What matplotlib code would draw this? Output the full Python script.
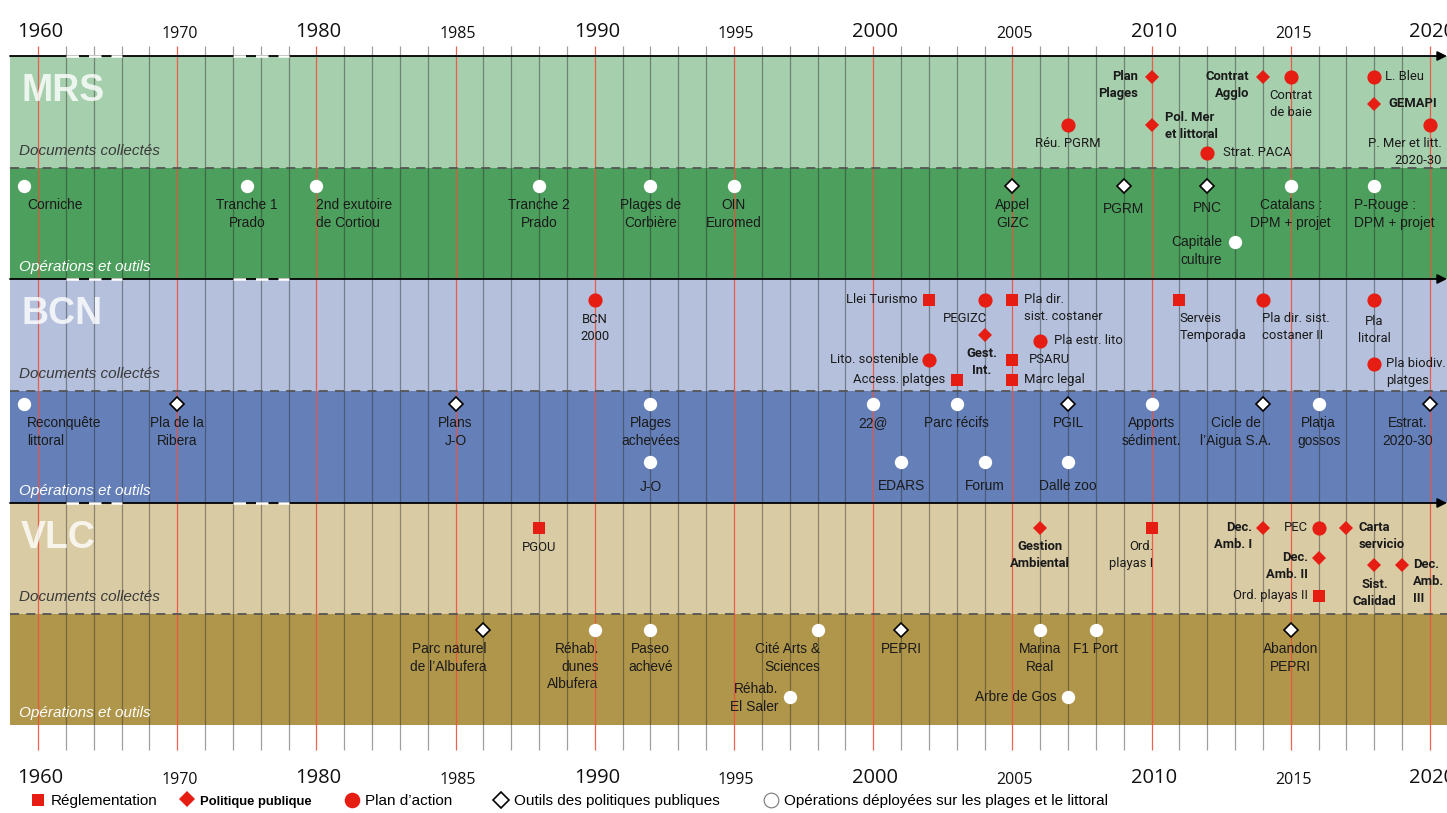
import matplotlib
matplotlib.use('Agg')
import matplotlib.pyplot as plt
from matplotlib.patches import Rectangle
from matplotlib.lines import Line2D

plt.rcParams['font.family'] = ['Roboto', 'DejaVu Sans']

# ---------------- DATA ----------------
axis_years = [1960, 1970, 1980, 1985, 1990, 1995, 2000, 2005, 2010, 2015, 2020]
major_years = [1960, 1980, 1990, 2000, 2010, 2020]
break_spans = [(1962, 1966), (1974, 1978)]

kinds = ['reg', 'pol', 'plan', 'outil', 'oper']
kind_names = ['Réglementation', 'Politique publique', 'Plan d’action',
              'Outils des politiques publiques',
              'Opérations déployées sur les plages et le littoral']

cities = ['MRS', 'BCN', 'VLC']
section_names = ['Documents collectés', 'Opérations et outils']

# events: (year, lane, kind, label)
mrs_docs = [
    (2010, 0, 'pol', 'Plan\nPlages'),
    (2014, 0, 'pol', 'Contrat\nAgglo'),
    (2015, 0, 'plan', 'Contrat\nde baie'),
    (2018, 0, 'plan', 'L. Bleu'),
    (2018, 1, 'pol', 'GEMAPI'),
    (2007, 2, 'plan', 'Réu. PGRM'),
    (2010, 2, 'pol', 'Pol. Mer\net littoral'),
    (2020, 2, 'plan', 'P. Mer et litt.\n2020-30'),
    (2012, 3, 'plan', 'Strat. PACA'),
]
mrs_ops = [
    (1959, 0, 'oper', 'Corniche'),
    (1975, 0, 'oper', 'Tranche 1\nPrado'),
    (1980, 0, 'oper', '2nd exutoire\nde Cortiou'),
    (1988, 0, 'oper', 'Tranche 2\nPrado'),
    (1992, 0, 'oper', 'Plages de\nCorbière'),
    (1995, 0, 'oper', 'OIN\nEuromed'),
    (2005, 0, 'outil', 'Appel\nGIZC'),
    (2009, 0, 'outil', 'PGRM'),
    (2012, 0, 'outil', 'PNC'),
    (2015, 0, 'oper', 'Catalans :\nDPM + projet'),
    (2018, 0, 'oper', 'P-Rouge :\nDPM + projet'),
    (2013, 1, 'oper', 'Capitale\nculture'),
]
bcn_docs = [
    (1990, 0, 'plan', 'BCN\n2000'),
    (2002, 0, 'reg', 'Llei Turismo'),
    (2004, 0, 'plan', 'PEGIZC'),
    (2005, 0, 'reg', 'Pla dir.\nsist. costaner'),
    (2011, 0, 'reg', 'Serveis\nTemporada'),
    (2014, 0, 'plan', 'Pla dir. sist.\ncostaner II'),
    (2018, 0, 'plan', 'Pla\nlitoral'),
    (2004, 1, 'pol', 'Gest.\nInt.'),
    (2006, 2, 'plan', 'Pla estr. lito'),
    (2002, 3, 'plan', 'Lito. sostenible'),
    (2005, 3, 'reg', 'PSARU'),
    (2018, 4, 'plan', 'Pla biodiv.\nplatges'),
    (2003, 5, 'reg', 'Access. platges'),
    (2005, 5, 'reg', 'Marc legal'),
]
bcn_ops = [
    (1959, 0, 'oper', 'Reconquête\nlittoral'),
    (1970, 0, 'outil', 'Pla de la\nRibera'),
    (1985, 0, 'outil', 'Plans\nJ-O'),
    (1992, 0, 'oper', 'Plages\nachevées'),
    (2000, 0, 'oper', '22@'),
    (2003, 0, 'oper', 'Parc récifs'),
    (2007, 0, 'outil', 'PGIL'),
    (2010, 0, 'oper', 'Apports\nsédiment.'),
    (2014, 0, 'outil', 'Cicle de\nl’Aigua S.A.'),
    (2016, 0, 'oper', 'Platja\ngossos'),
    (2020, 0, 'outil', 'Estrat.\n2020-30'),
    (1992, 1, 'oper', 'J-O'),
    (2001, 1, 'oper', 'EDARS'),
    (2004, 1, 'oper', 'Forum'),
    (2007, 1, 'oper', 'Dalle zoo'),
]
vlc_docs = [
    (1988, 0, 'reg', 'PGOU'),
    (2006, 0, 'pol', 'Gestion\nAmbiental'),
    (2010, 0, 'reg', 'Ord.\nplayas I'),
    (2014, 0, 'pol', 'Dec.\nAmb. I'),
    (2016, 0, 'plan', 'PEC'),
    (2017, 0, 'pol', 'Carta\nservicio'),
    (2016, 1, 'pol', 'Dec.\nAmb. II'),
    (2018, 2, 'pol', 'Sist.\nCalidad'),
    (2019, 2, 'pol', 'Dec.\nAmb.\nIII'),
    (2016, 3, 'reg', 'Ord. playas II'),
]
vlc_ops = [
    (1986, 0, 'outil', 'Parc naturel\nde l’Albufera'),
    (1990, 0, 'oper', 'Réhab.\ndunes\nAlbufera'),
    (1992, 0, 'oper', 'Paseo\nachevé'),
    (1998, 0, 'oper', 'Cité Arts &\nSciences'),
    (2001, 0, 'outil', 'PEPRI'),
    (2006, 0, 'oper', 'Marina\nReal'),
    (2008, 0, 'oper', 'F1 Port'),
    (2015, 0, 'outil', 'Abandon\nPEPRI'),
    (1997, 1, 'oper', 'Réhab.\nEl Saler'),
    (2007, 1, 'oper', 'Arbre de Gos'),
]

# ---------------- LAYOUT / STYLE ----------------
W, H = 1447, 813
PX0, SLOT = 38.0, 27.84


def pos(year):
    return (year - 1960) / 2.0 if year < 1980 else float(year - 1970)


def px2x(px):
    return (px - PX0) / SLOT


def year_of_slot(k):
    return 1960 + 2 * k if k < 10 else 1970 + k


sections = [
    ('MRS', 0, mrs_docs, 56, 168, '#a6cfad', [21, 48, 69, 97]),
    ('MRS', 1, mrs_ops, 168, 279, '#4c9f5c', [18, 74]),
    ('BCN', 0, bcn_docs, 279, 391, '#b4c0dc', [21, 56, 62, 81, 85, 101]),
    ('BCN', 1, bcn_ops, 391, 503, '#6580b8', [13, 71]),
    ('VLC', 0, vlc_docs, 503, 614, '#d9cba4', [25, 55, 62, 93]),
    ('VLC', 1, vlc_ops, 614, 725, '#b0964a', [16, 83]),
]

RED = '#e51d12'
marker_style = {
    'reg': dict(marker='s', ms=8.0, mfc=RED, mec=RED, mew=0),
    'pol': dict(marker='D', ms=7.4, mfc=RED, mec=RED, mew=0),
    'plan': dict(marker='o', ms=10.2, mfc=RED, mec=RED, mew=0),
    'outil': dict(marker='D', ms=7.2, mfc='white', mec='black', mew=1.2),
    'oper': dict(marker='o', ms=9.6, mfc='white', mec='white', mew=0),
}

# placement codes: ha, va, dx(px), dy(px, down positive)
codes = {
    'B': ('center', 'top', 0, 12),
    'BL': ('right', 'top', 2, 12),
    'BR': ('left', 'top', 0, 12),
    'L': ('right', 'top', -11, -7),
    'R': ('left', 'top', 11, -7),
    'LC': ('right', 'center', -11, 1),
    'RC': ('left', 'center', 11, 1),
}
placement = {
    'Plan\nPlages': ('L', -3, 0), 'Contrat\nAgglo': ('L', -3, 0),
    'Contrat\nde baie': ('B', 0, 0), 'L. Bleu': ('R', 0, 0), 'GEMAPI': ('R', 3, 0),
    'Réu. PGRM': ('B', 0, 0), 'Pol. Mer\net littoral': ('RC', 2, 0),
    'P. Mer et litt.\n2020-30': ('BL', 10, 0), 'Strat. PACA': ('R', 5, 0),
    'Corniche': ('BR', 3, 0), 'Tranche 1\nPrado': ('B', 0, 0),
    '2nd exutoire\nde Cortiou': ('BR', 0, 0), 'Tranche 2\nPrado': ('B', 0, 0),
    'Plages de\nCorbière': ('B', 0, 0), 'OIN\nEuromed': ('B', 0, 0),
    'Appel\nGIZC': ('B', 0, 0), 'PGRM': ('B', 0, 4), 'PNC': ('B', 0, 3),
    'Catalans :\nDPM + projet': ('B', 0, 0), 'P-Rouge :\nDPM + projet': ('BR', -20, 0),
    'Capitale\nculture': ('L', -2, 0),
    'BCN\n2000': ('B', 0, 1), 'Llei Turismo': ('L', 0, 0), 'PEGIZC': ('BL', 0, 0),
    'Pla dir.\nsist. costaner': ('R', 1, 0), 'Serveis\nTemporada': ('BR', 0, 0),
    'Pla dir. sist.\ncostaner II': ('BR', -1, 0), 'Pla\nlitoral': ('B', 0, 3),
    'Gest.\nInt.': ('B', -3, 0), 'Pla estr. lito': ('R', 3, 0),
    'Lito. sostenible': ('L', 0, 0), 'PSARU': ('R', 5, 0),
    'Pla biodiv.\nplatges': ('R', 1, 0), 'Access. platges': ('L', 0, 0),
    'Marc legal': ('R', 1, 0),
    'Reconquête\nlittoral': ('BR', 3, 0), 'Pla de la\nRibera': ('B', 0, 0),
    'Plans\nJ-O': ('B', 0, 0), 'Plages\nachevées': ('B', 0, 0), '22@': ('B', 0, 0),
    'Parc récifs': ('B', 0, 0), 'PGIL': ('B', 0, 0), 'Apports\nsédiment.': ('B', 0, 0),
    'Cicle de\nl’Aigua S.A.': ('B', -27, 0), 'Platja\ngossos': ('B', 0, 0),
    'Estrat.\n2020-30': ('B', -22, 0), 'J-O': ('B', 0, 6), 'EDARS': ('B', 0, 5),
    'Forum': ('B', 0, 5), 'Dalle zoo': ('B', 0, 5),
    'PGOU': ('B', 0, 1), 'Gestion\nAmbiental': ('B', 0, 0), 'Ord.\nplayas I': ('BL', 0, 0),
    'Dec.\nAmb. I': ('L', 0, 0), 'PEC': ('L', 0, 0), 'Carta\nservicio': ('R', 1, 0),
    'Dec.\nAmb. II': ('L', 0, 0), 'Sist.\nCalidad': ('B', 0, 1), 'Dec.\nAmb.\nIII': ('R', 0, 0),
    'Ord. playas II': ('L', 0, 0),
    'Parc naturel\nde l’Albufera': ('BL', 1, 0), 'Réhab.\ndunes\nAlbufera': ('BL', 2, 0),
    'Paseo\nachevé': ('B', 0, 0), 'Cité Arts &\nSciences': ('BL', 1, 0), 'PEPRI': ('B', 0, 0),
    'Marina\nReal': ('B', 0, 0), 'F1 Port': ('B', 0, 0), 'Abandon\nPEPRI': ('B', 0, 0),
    'Réhab.\nEl Saler': ('LC', 0, 0), 'Arbre de Gos': ('L', 0, 0),
}
legend_px = [38, 187, 352, 501, 771]   # marker centres of the legend entries (px)

fig = plt.figure(figsize=(W / 100, H / 100), dpi=100)
ax = fig.add_axes([0, 0, 1, 1])
ax.set_xlim(px2x(0), px2x(W))
ax.set_ylim(H, 0)
ax.axis('off')

x_left = px2x(10)
x_right = px2x(W)

# bands
for city, part, events, top, bot, col, lanes in sections:
    ax.add_patch(Rectangle((x_left, top), x_right - x_left, bot - top,
                           facecolor=col, edgecolor='none', zorder=0))

# vertical grid lines
for k in range(0, 51):
    yr = year_of_slot(k)
    if yr in axis_years:
        ax.vlines(k, 46, 750, color='#f0503e', lw=0.9, alpha=0.9, zorder=1)
    else:
        ax.vlines(k, 46, 750, color='#2a2a2a', lw=0.9, alpha=0.45, zorder=1)

# year labels (top and bottom)
for yr in axis_years:
    big = yr in major_years
    for yy in (32, 778):
        ax.text(pos(yr) + 0.08, yy + (0 if big else 2), str(yr), ha='center', va='center',
                fontsize=14.5 if big else 11.5, family=['Open Sans', 'DejaVu Sans'],
                color='#111111', zorder=5)

# axis lines with arrows
for city, part, events, top, bot, col, lanes in sections:
    if part == 0:
        ax.annotate('', xy=(x_right, top), xytext=(x_left, top),
                    arrowprops=dict(arrowstyle='-|>', color='black', lw=1.3,
                                    mutation_scale=14, shrinkA=0, shrinkB=0), zorder=3)
        for a, b in break_spans:
            ax.plot([pos(a), pos(b)], [top, top], color='white', lw=1.8,
                    dashes=(5, 4), zorder=3.5, solid_capstyle='butt')
    else:
        ax.plot([x_left, x_right], [top, top], color='#555555', lw=1.3,
                dashes=(5, 4), zorder=3)

# city labels and section labels
for city, part, events, top, bot, col, lanes in sections:
    if part == 0:
        ax.text(px2x(21), top + 35, city, ha='left', va='center', fontsize=27,
                fontweight='bold', family=['Liberation Sans', 'DejaVu Sans'],
                color='white', alpha=0.8, zorder=5)
        ax.text(px2x(19), bot - 17, section_names[0], ha='left', va='center', fontsize=11,
                style='italic', family=['Liberation Sans', 'DejaVu Sans'],
                color='#3a3a3a', zorder=5)
    else:
        ax.text(px2x(19), bot - 12, section_names[1], ha='left', va='center', fontsize=11,
                style='italic', family=['Liberation Sans', 'DejaVu Sans'],
                color='white', zorder=5)

# events
for city, part, events, top, bot, col, lanes in sections:
    for yr, lane, kind, label in events:
        x = pos(yr)
        y = top + lanes[lane]
        ax.plot([x], [y], linestyle='none', zorder=4, **marker_style[kind])
        code, ddx, ddy = placement.get(label, ('B', 0, 0))
        ha, va, dx, dy = codes[code]
        dx += ddx
        dy += ddy
        if part == 1:
            fam, fs, ls = ['Liberation Sans', 'DejaVu Sans'], 9.9, 1.33
        else:
            fam, fs, ls = ['Roboto', 'DejaVu Sans'], 9.4, 1.4
        ax.annotate(label, xy=(x, y), xytext=(dx * 0.72, -dy * 0.72),
                    textcoords='offset points', ha=ha, va=va, fontsize=fs, family=fam,
                    fontweight='bold' if kind == 'pol' else 'normal',
                    color='#1a1a1a', linespacing=ls, zorder=5)

# legend: one entry per kind, anchored at the reference positions
FS_LEG = 11.0
for kind, name, xpx in zip(kinds, kind_names, legend_px):
    st = dict(marker_style[kind])
    st['ms'] = st['ms'] * 1.1
    if kind == 'oper':
        st['mec'] = '#777777'
        st['mew'] = 0.8
    h = Line2D([], [], linestyle='none', label=name, **st)
    half = 0.5 * FS_LEG * 100 / 72
    leg = fig.legend(handles=[h], loc='center left',
                     bbox_to_anchor=((xpx - half) / W, 0.0148),
                     frameon=False, prop={'family': ['Liberation Sans', 'DejaVu Sans'],
                                          'size': FS_LEG},
                     handlelength=1.0, handletextpad=0.32, borderpad=0, borderaxespad=0)
    if kind == 'pol':
        t = leg.get_texts()[0]
        t.set_fontweight('bold')
        t.set_fontsize(9.4)

fig.savefig('out.png', dpi=100)
